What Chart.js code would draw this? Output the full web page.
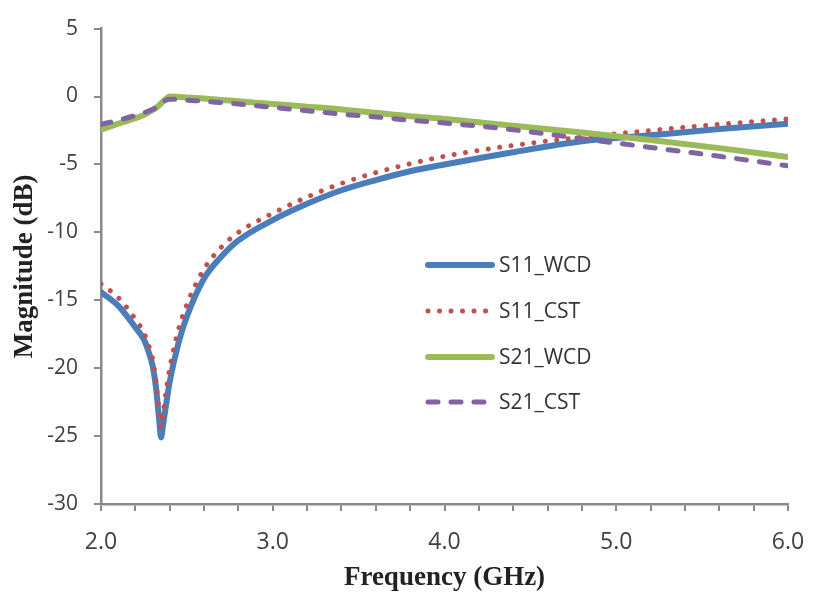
<!DOCTYPE html>
<html>
<head>
<meta charset="utf-8">
<script src="https://cdn.jsdelivr.net/npm/chart.js@4.4.0/dist/chart.umd.min.js"></script>
<style>
  html, body { margin: 0; padding: 0; background: #fff; }
  #wrap { width: 813px; height: 593px; }
</style>
</head>
<body>
<div id="wrap"><canvas id="chart"></canvas></div>
<script>
// frequency points (GHz), denser around the S11 dip
const freq = [2.0, 2.1, 2.2, 2.25, 2.28, 2.3, 2.32, 2.34, 2.35, 2.36, 2.38, 2.4, 2.45, 2.5, 2.6, 2.7, 2.8,
  3.0, 3.2, 3.4, 3.6, 3.8, 4.0, 4.4, 4.8, 5.2, 5.6, 6.0];

const s11Wcd = [-14.4, -15.4, -17.0, -17.9, -18.9, -19.8, -21.4, -24.0, -25.1, -24.3, -22.6, -21.0, -18.2, -16.2, -13.4, -11.8, -10.6,
  -9.1, -7.9, -6.9, -6.15, -5.5, -5.0, -4.1, -3.3, -2.85, -2.4, -2.0];
const s11Cst = [-13.8, -14.8, -16.4, -17.4, -18.4, -19.3, -20.9, -23.4, -24.4, -23.5, -21.6, -20.0, -17.2, -15.3, -12.7, -11.1, -10.0,
  -8.6, -7.4, -6.4, -5.6, -4.95, -4.4, -3.6, -3.0, -2.5, -2.05, -1.65];
const s21Wcd = [-2.45, -2.0, -1.6, -1.35, -1.15, -1.0, -0.85, -0.62, -0.5, -0.38, -0.15, 0.0, -0.03, -0.07, -0.15, -0.25, -0.35,
  -0.55, -0.75, -0.95, -1.2, -1.45, -1.65, -2.15, -2.65, -3.2, -3.8, -4.45];
const s21Cst = [-2.05, -1.75, -1.4, -1.2, -1.05, -0.95, -0.8, -0.63, -0.55, -0.45, -0.25, -0.2, -0.22, -0.27, -0.35, -0.45, -0.55,
  -0.8, -1.05, -1.3, -1.5, -1.75, -1.95, -2.45, -3.1, -3.75, -4.4, -5.1];

const seriesNames = ['S11_WCD', 'S11_CST', 'S21_WCD', 'S21_CST'];
const yTicks = { min: -30, max: 5, step: 5 };
const xTicks = { min: 2, max: 6, step: 0.2 };

const axisGray = '#8a8a8a';
const toPoints = vals => vals.map((v, i) => ({ x: freq[i], y: v }));

// legend drawn inside the plot, like the original
const insideLegend = {
  id: 'insideLegend',
  afterDatasetsDraw(chart) {
    const ctx = chart.ctx;
    const x0 = 428, x1 = 492, tx = 499;
    const rows = [265, 311, 357, 402];
    ctx.save();
    chart.data.datasets.forEach((ds, i) => {
      const y = rows[i];
      ctx.beginPath();
      ctx.strokeStyle = ds.borderColor;
      ctx.lineWidth = ds.borderWidth;
      ctx.lineCap = ds.borderCapStyle || 'butt';
      ctx.setLineDash(ds.borderDash || []);
      ctx.moveTo(x0, y);
      ctx.lineTo(x1, y);
      ctx.stroke();
      ctx.setLineDash([]);
      ctx.fillStyle = '#333';
      ctx.font = '21px "Open Sans"';
      ctx.textBaseline = 'middle';
      ctx.fillText(ds.label, tx, y + 1);
    });
    ctx.restore();
  }
};

new Chart(document.getElementById('chart'), {
  type: 'line',
  data: {
    datasets: [
      {
        label: seriesNames[0], data: toPoints(s11Wcd),
        borderColor: '#4a7ebb', borderWidth: 6, borderCapStyle: 'round', order: 4
      },
      {
        label: seriesNames[1], data: toPoints(s11Cst),
        borderColor: '#c0504d', borderWidth: 5, borderDash: [0.01, 11.5], borderCapStyle: 'round', order: 3
      },
      {
        label: seriesNames[2], data: toPoints(s21Wcd),
        borderColor: '#9bbb59', borderWidth: 6, borderCapStyle: 'round', order: 2
      },
      {
        label: seriesNames[3], data: toPoints(s21Cst),
        borderColor: '#8064a2', borderWidth: 5, borderDash: [10, 13], borderCapStyle: 'round', order: 1
      }
    ]
  },
  options: {
    responsive: true,
    maintainAspectRatio: false,
    animation: false,
    layout: { padding: { left: 0, right: 25, top: 25, bottom: 0 } },
    elements: {
      point: { radius: 0 },
      line: { cubicInterpolationMode: 'monotone', fill: false }
    },
    plugins: {
      legend: { display: false },
      tooltip: { enabled: false }
    },
    scales: {
      x: {
        type: 'linear',
        min: xTicks.min,
        max: xTicks.max,
        afterFit: s => { s.height = 89; s.paddingLeft = 0; s.paddingRight = 0; },
        border: { color: axisGray, width: 2.5 },
        grid: { drawOnChartArea: false, drawTicks: true, tickLength: 7, color: axisGray, lineWidth: 2 },
        ticks: {
          stepSize: xTicks.step,
          autoSkip: false,
          maxRotation: 0,
          padding: 18,
          color: '#404040',
          font: { family: '"Open Sans"', size: 23 },
          callback: v => Math.abs(v - Math.round(v)) < 1e-6 ? v.toFixed(1) : ''
        },
        title: {
          display: true,
          text: 'Frequency (GHz)',
          color: '#222',
          font: { family: '"Liberation Serif"', size: 27, weight: 'bold', lineHeight: 1.1 },
          padding: { top: 0, bottom: 0 }
        }
      },
      y: {
        min: yTicks.min,
        max: yTicks.max,
        afterFit: s => { s.width = 101; },
        border: { color: axisGray, width: 2.5 },
        grid: { drawOnChartArea: false, drawTicks: true, tickLength: 7, color: axisGray, lineWidth: 2 },
        ticks: {
          stepSize: yTicks.step,
          padding: 16,
          color: '#404040',
          font: { family: '"Open Sans"', size: 21 }
        },
        title: {
          display: true,
          text: 'Magnitude (dB)',
          color: '#222',
          font: { family: '"Liberation Serif"', size: 27, weight: 'bold', lineHeight: 1.1 },
          padding: { top: 10, bottom: 0 }
        }
      }
    }
  },
  plugins: [insideLegend]
});
</script>
</body>
</html>
